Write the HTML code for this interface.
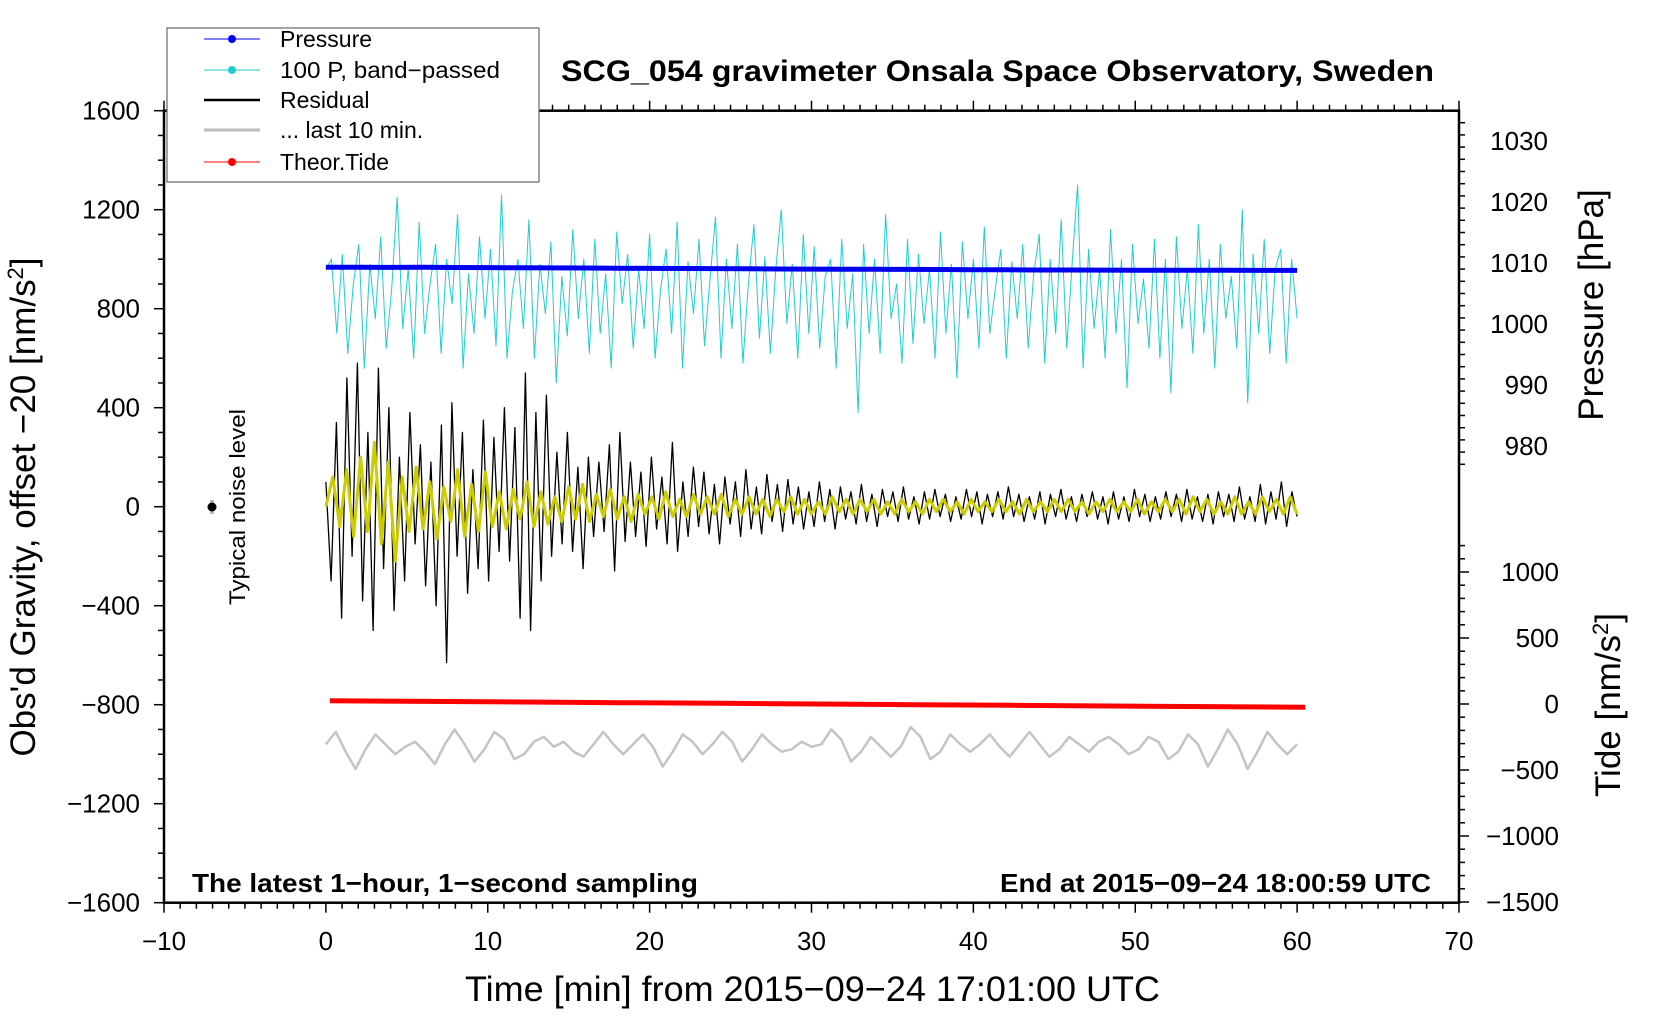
<!DOCTYPE html>
<html><head><meta charset="utf-8"><style>
html,body{margin:0;padding:0;background:#fff;}
svg{display:block;font-family:"Liberation Sans",sans-serif;}
</style></head><body>
<svg id="chart" width="1660" height="1020" viewBox="0 0 1660 1020">
<g id="grid"></g>
<g id="series"></g>
<g id="axes"></g>
<g id="labels"></g>
</svg>
<script>
const xTicks=[-10,0,10,20,30,40,50,60,70];
const gTicks=[-1600,-1200,-800,-400,0,400,800,1200,1600];
const pTicks=[980,990,1000,1010,1020,1030];
const tTicks=[-1500,-1000,-500,0,500,1000];
const pressure=[1009.3,1009.3,1009.28,1009.3,1009.27,1009.25,1009.22,1009.2,1009.18,1009.15,1009.12,1009.1,1009.08,1009.05,1009.02,1009.0,1008.98,1008.96,1008.95,1008.93,1008.9,1008.88,1008.86,1008.85,1008.84,1008.82,1008.8,1008.8,1008.8,1008.78,1008.78];
const cyan=[960,1000,700,1020,620,900,1060,560,980,760,1090,640,880,1250,720,960,600,1150,700,900,1060,620,1000,820,1180,560,940,700,1090,760,1040,650,1260,600,870,1000,720,1160,600,980,780,1070,500,930,690,1120,760,1000,620,1080,700,940,560,1110,820,1020,640,960,720,1100,600,880,1040,700,1150,560,990,780,1080,650,920,1170,600,1000,720,1060,580,900,1140,680,1010,620,960,1200,740,980,600,1100,700,1050,640,930,1000,560,1080,720,940,380,1060,700,1000,620,1180,760,900,580,1080,660,1020,740,960,600,1110,700,980,520,1070,760,1000,640,1130,700,880,1040,600,990,760,1060,640,940,1100,580,1000,700,1160,640,980,1300,560,1040,720,960,600,1120,700,1000,480,1060,740,920,640,1080,600,1000,460,1090,720,960,620,1140,700,1000,560,1060,760,930,640,1200,420,1020,700,1080,620,960,1040,580,1000,760];
const residual=[100,-300,340,-450,520,-200,580,-380,300,-500,560,-250,400,-420,200,-300,380,-150,250,-320,180,-400,330,-630,420,-200,300,-350,150,-250,350,-300,280,-180,400,-220,320,-450,540,-500,380,-300,450,-200,220,-150,300,-180,160,-250,200,-120,180,-100,250,-260,300,-140,180,-120,140,-160,200,-90,120,-150,260,-180,100,-120,160,-80,140,-110,90,-150,120,-70,100,-120,150,-90,80,-110,130,-60,90,-100,110,-70,80,-90,60,-80,100,-60,70,-90,80,-50,60,-70,90,-60,50,-80,70,-40,60,-60,80,-50,40,-70,60,-50,70,-40,50,-60,40,-50,70,-40,60,-70,50,-40,60,-50,80,-40,50,-60,40,-50,60,-70,50,-40,70,-50,40,-60,50,-40,60,-50,40,-70,60,-50,40,-60,70,-40,50,-60,40,-50,60,-40,50,-60,70,-50,40,-60,50,-70,60,-40,50,-60,80,-50,40,-60,90,-70,60,-50,100,-80,60,-40];
const yellow=[0,120,-80,150,-120,200,-100,260,-150,180,-220,120,-100,160,-90,100,-130,80,-60,150,-120,90,-100,140,-80,60,-90,70,-50,100,-80,60,-70,40,-60,80,-50,90,-60,50,-40,70,-50,40,-60,50,-30,40,-50,60,-40,30,-40,50,-30,40,-30,50,-40,30,-30,40,-30,30,-40,30,-20,40,-30,30,-30,20,-30,40,-20,30,-30,30,-20,30,-30,20,-30,30,-20,20,-30,30,-20,30,-20,20,-30,30,-20,20,-20,30,-20,20,-30,30,-20,20,-20,30,-20,30,-20,20,-30,20,-20,30,-20,20,-20,30,-30,20,-20,30,-20,30,-30,40,-20,30,-30,20,-30,40,-30,20,-30,40,-20,30,-30,40,-30];
const gray=[-960,-910,-990,-1060,-980,-920,-960,-1000,-970,-950,-990,-1040,-960,-900,-960,-1030,-980,-910,-940,-1020,-1000,-950,-930,-970,-950,-990,-1010,-960,-910,-960,-1000,-960,-920,-970,-1050,-990,-920,-950,-1000,-960,-910,-950,-1030,-980,-920,-960,-990,-980,-950,-970,-960,-900,-940,-1030,-990,-930,-970,-1010,-970,-890,-930,-1020,-990,-920,-960,-990,-960,-920,-970,-1010,-960,-910,-960,-1010,-980,-930,-960,-990,-950,-930,-960,-1000,-980,-930,-950,-1020,-990,-920,-960,-1050,-980,-900,-960,-1060,-990,-910,-960,-1000,-960];
const tide=[25,20,15,10,5,0,-5,-10,-15,-20,-25];

const NS="http://www.w3.org/2000/svg";
const X0=164,X1=1459,YT=110.7,YB=902.7;
function xs(t){return X0+(t+10)*(X1-X0)/80;}
function gy(v){return 506.7-v*(YB-YT)/3200;}
function py(p){return 263-(p-1010)*6.1;}
function ty(v){return 704-v*0.132;}
function el(tag,attrs,parent,txt){const e=document.createElementNS(NS,tag);for(const k in attrs)e.setAttribute(k,attrs[k]);if(txt!==undefined)e.textContent=txt;parent.appendChild(e);return e;}
const S=document.getElementById('series'),A=document.getElementById('axes'),L=document.getElementById('labels');

function poly(arr,t0,t1,fy,color,w,name){
  const pts=arr.map((v,i)=>xs(t0+(t1-t0)*i/(arr.length-1)).toFixed(1)+','+fy(v).toFixed(1)).join(' ');
  const p=el('polyline',{points:pts,fill:'none',stroke:color,'stroke-width':w,'stroke-linejoin':'round'},S);
  
  
}
poly(cyan,0,60,gy,'#22cccc',1,'bandpassed-pressure-line');
poly(pressure,0,60,py,'#0000ee',5,'pressure-line');
poly(gray,0,60,gy,'#c4c4c4',2.5,'last-10-min-line');
poly(residual,0,60,gy,'#000',1.3,'residual-line');
poly(yellow,0,60,gy,'#cccc00',3,'residual-smoothed-line');
poly(tide,0.25,60.5,ty,'#ff0000',5,'theoretical-tide-line');

const fr=el('rect',{x:X0,y:YT,width:X1-X0,height:YB-YT,fill:'none',stroke:'#000','stroke-width':2.5},A);


for(let t=-10;t<=70;t++){const maj=t%10===0;const L2=maj?10:6;
 el('line',{x1:xs(t),x2:xs(t),y1:YB,y2:YB+L2,stroke:'#000','stroke-width':1.5},A);
 el('line',{x1:xs(t),x2:xs(t),y1:YT,y2:YT-L2,stroke:'#000','stroke-width':1.5},A);}
xTicks.forEach(t=>{const e=el('text',{x:xs(t),y:950,'font-size':26,'text-anchor':'middle'},L,String(t).replace('-','\u2212'));
 
 });
for(let v=-1600;v<=1600;v+=100){const maj=v%400===0;
 el('line',{x1:X0,x2:X0-(maj?10:6),y1:gy(v),y2:gy(v),stroke:'#000','stroke-width':1.5},A);}
gTicks.forEach(v=>{const e=el('text',{x:140,y:gy(v)+9,'font-size':26,'text-anchor':'end'},L,String(v).replace('-','\u2212'));
 
 });
for(let p=977;p<=1033;p+=2){if(py(p)<YT+2)continue;el('line',{x1:X1,x2:X1+(p%10===0?10:6),y1:py(p),y2:py(p),stroke:'#000','stroke-width':1.5},A);}
pTicks.forEach(p=>{const e=el('text',{x:1548,y:py(p)+9,'font-size':26,'text-anchor':'end'},L,String(p));
 
 });
for(let v=-1500;v<=1200;v+=100){el('line',{x1:X1,x2:X1+(v%500===0?10:6),y1:ty(v),y2:ty(v),stroke:'#000','stroke-width':1.5},A);}
tTicks.forEach(v=>{const e=el('text',{x:1559,y:ty(v)+9,'font-size':26,'text-anchor':'end'},L,String(v).replace('-','\u2212'));
 
 });
</script>
<svg style="position:absolute;left:0;top:0" width="1660" height="1020">
<g font-family="Liberation Sans, sans-serif">
<text x="561" y="81" font-size="30" font-weight="bold" textLength="873" lengthAdjust="spacingAndGlyphs">SCG_054 gravimeter Onsala Space Observatory, Sweden</text>
<text x="465" y="1001" font-size="35" textLength="695" lengthAdjust="spacingAndGlyphs">Time [min] from 2015−09−24 17:01:00 UTC</text>
<text transform="translate(35,507) rotate(-90)" font-size="35" text-anchor="middle">Obs'd Gravity, offset −20 [nm/s<tspan font-size="22" dy="-12">2</tspan><tspan dy="12">]</tspan></text>
<text transform="translate(1603,305) rotate(-90)" font-size="35" text-anchor="middle">Pressure [hPa]</text>
<text transform="translate(1620,705) rotate(-90)" font-size="35" text-anchor="middle">Tide [nm/s<tspan font-size="22" dy="-12">2</tspan><tspan dy="12">]</tspan></text>
<text x="192" y="892" font-size="26" font-weight="bold" textLength="506" lengthAdjust="spacingAndGlyphs">The latest 1−hour, 1−second sampling</text>
<text x="1000" y="892" font-size="26" font-weight="bold" textLength="431" lengthAdjust="spacingAndGlyphs">End at 2015−09−24 18:00:59 UTC</text>
<g>
<line x1="212" y1="500" x2="212" y2="514" stroke="#bbb" stroke-width="4"/>
<circle cx="212" cy="507" r="4.5" fill="#000"/>
</g>
<text transform="translate(245,507) rotate(-90)" font-size="22" text-anchor="middle" textLength="196" lengthAdjust="spacingAndGlyphs">Typical noise level</text>
<g>
<rect x="167" y="28" width="372" height="154" fill="#fff" stroke="#666" stroke-width="1.2"/>
<line x1="204" y1="39" x2="260" y2="39" stroke="#0000ee" stroke-width="1"/><circle cx="232" cy="39" r="4" fill="#0000ee"/>
<text x="280" y="47" font-size="23">Pressure</text>
<line x1="204" y1="70" x2="260" y2="70" stroke="#22cccc" stroke-width="1"/><circle cx="232" cy="70" r="4" fill="#22cccc"/>
<text x="280" y="78" font-size="23" textLength="220" lengthAdjust="spacingAndGlyphs">100 P, band−passed</text>
<line x1="204" y1="100" x2="260" y2="100" stroke="#000" stroke-width="2.5"/>
<text x="280" y="108" font-size="23">Residual</text>
<line x1="204" y1="130" x2="260" y2="130" stroke="#bbb" stroke-width="3"/>
<text x="280" y="138" font-size="23">... last 10 min.</text>
<line x1="204" y1="162" x2="260" y2="162" stroke="#ff0000" stroke-width="1"/><circle cx="232" cy="162" r="4" fill="#ff0000"/>
<text x="280" y="170" font-size="23">Theor.Tide</text>
</g>
</g>
</svg>
</body></html>
